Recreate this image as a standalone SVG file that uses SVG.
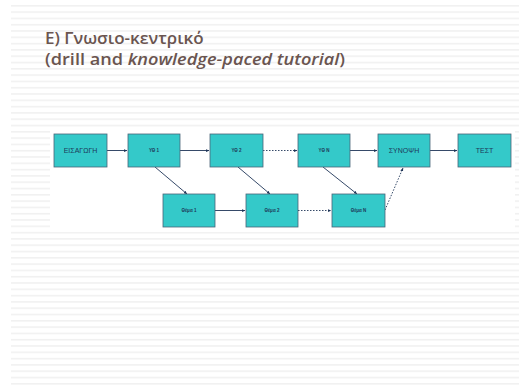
<svg xmlns="http://www.w3.org/2000/svg" width="519" height="385" viewBox="0 0 519 385">
<defs>
<pattern id="stripes" x="0" y="5" width="10" height="6.3" patternUnits="userSpaceOnUse">
<rect x="0" y="0" width="10" height="6.3" fill="#ffffff"/>
<rect x="0" y="0" width="10" height="1.6" fill="#f1f1f1"/>
</pattern>
<marker id="ah" viewBox="0 0 6 6" refX="5.5" refY="3" markerWidth="4" markerHeight="4" orient="auto">
<path d="M0,0.5 L6,3 L0,5.5 Z" fill="#1f3558"/>
</marker>
</defs>
<style>
.box{fill:#34c9c9;stroke:#4a6478;stroke-width:0.8}
.lbl{font-family:"Liberation Sans",Arial,sans-serif;font-size:4.5px;fill:#1d3a5a;text-anchor:middle;font-weight:bold}
.big{font-size:7px;font-weight:normal}
.c{stroke:#1f3558;stroke-width:0.9;fill:none;marker-end:url(#ah)}
.d{stroke-dasharray:1.5,1.5}
.t{font-family:"Open Sans","Noto Sans",sans-serif;font-weight:600;font-size:17px;fill:#6a5550}
</style>
<rect width="519" height="385" fill="#ffffff"/>
<rect x="11" y="5" width="508" height="380" fill="url(#stripes)"/>
<rect x="50" y="128" width="465" height="104" fill="#ffffff"/>
<text class="t" x="45" y="44">Ε) Γνωσιο-κεντρικό</text>
<text class="t" x="45" y="65" textLength="300" lengthAdjust="spacingAndGlyphs">(drill and <tspan font-style="italic">knowledge-paced tutorial</tspan>)</text>
<g id="connectors">
<line class="c" x1="107" y1="150.5" x2="127" y2="150.5"/>
<line class="c" x1="180" y1="150.5" x2="209" y2="150.5"/>
<line class="c d" x1="263" y1="150.5" x2="297" y2="150.5"/>
<line class="c" x1="350" y1="150.5" x2="377" y2="150.5"/>
<line class="c" x1="430" y1="150.5" x2="457" y2="150.5"/>
<line class="c" x1="155" y1="167" x2="187" y2="194"/>
<line class="c" x1="238" y1="167" x2="270" y2="194"/>
<line class="c" x1="323" y1="167" x2="357" y2="194"/>
<line class="c" x1="215" y1="210.5" x2="245" y2="210.5"/>
<line class="c d" x1="298" y1="210.5" x2="331" y2="210.5"/>
<line class="c d" x1="385" y1="210" x2="403" y2="168"/>
</g>
<g id="n-eisagogi"><rect class="box" x="54" y="134" width="53" height="33"/><text class="lbl big" x="80.5" y="153">ΕΙΣΑΓΩΓΗ</text></g>
<g id="n-yo1"><rect class="box" x="128" y="134" width="52" height="33"/><text class="lbl" x="154" y="152">ΥΘ 1</text></g>
<g id="n-yo2"><rect class="box" x="210" y="134" width="53" height="33"/><text class="lbl" x="236.5" y="152">ΥΘ 2</text></g>
<g id="n-yon"><rect class="box" x="298" y="134" width="52" height="33"/><text class="lbl" x="324" y="152">ΥΘ Ν</text></g>
<g id="n-synopsi"><rect class="box" x="378" y="134" width="52" height="33"/><text class="lbl big" x="404" y="153">ΣΥΝΟΨΗ</text></g>
<g id="n-test"><rect class="box" x="458" y="134" width="53" height="33"/><text class="lbl big" x="484.5" y="153">ΤΕΣΤ</text></g>
<g id="n-thema1"><rect class="box" x="163" y="194" width="52" height="33"/><text class="lbl" x="189" y="212">Θέμα 1</text></g>
<g id="n-thema2"><rect class="box" x="246" y="194" width="52" height="33"/><text class="lbl" x="272" y="212">Θέμα 2</text></g>
<g id="n-theman"><rect class="box" x="332" y="194" width="53" height="33"/><text class="lbl" x="358.5" y="212">Θέμα Ν</text></g>
</svg>
